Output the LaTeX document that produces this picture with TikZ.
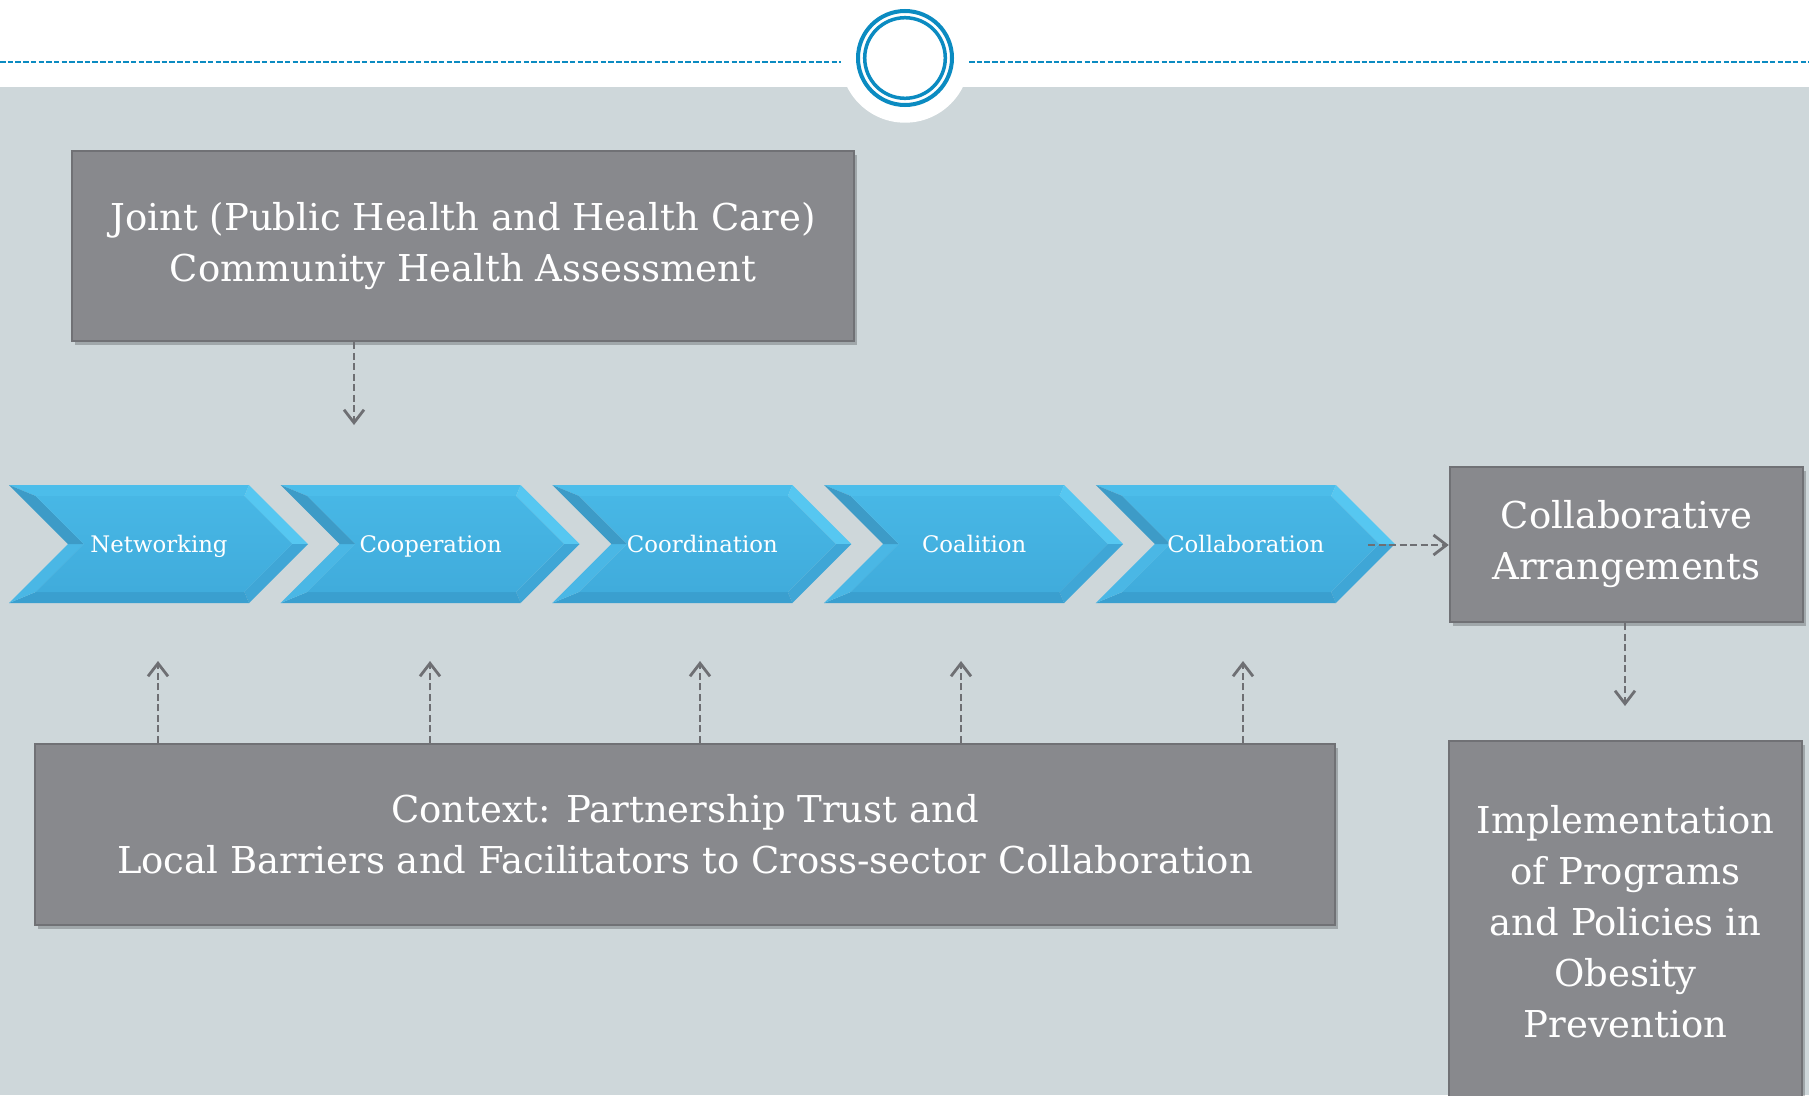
\documentclass[tikz,border=0pt]{standalone}
\usepackage{fontspec}
\setmainfont{DejaVu Serif}
\usetikzlibrary{arrows.meta,shadows}

\definecolor{bg}{HTML}{CED7DA}
\definecolor{boxfill}{HTML}{88898D}
\definecolor{boxline}{HTML}{707175}
\definecolor{arrowgray}{HTML}{6E6F73}
\definecolor{ring}{HTML}{0B8BC1}
\definecolor{chevmain}{HTML}{41AEDE}
\definecolor{chevtop}{HTML}{4CBDEA}
\definecolor{chevlight}{HTML}{56C7F1}
\definecolor{chevdark}{HTML}{3D9BC7}
\definecolor{chevlow}{HTML}{3A9FCF}
\definecolor{chevmid}{HTML}{3FA6D6}
\definecolor{chevleft}{HTML}{4AB7E5}

\begin{document}
\begin{tikzpicture}
        [x=1pt, y=-1pt,
        box/.style={rectangle, draw=boxline, line width=2.5pt, fill=boxfill, text=white, align=center,
            font=\fontsize{37}{51}\selectfont,
            drop shadow={shadow xshift=3pt, shadow yshift=-4pt, opacity=0.22, fill=black}},
        conn/.style={draw=arrowgray, line width=2.8pt, dash pattern=on 7pt off 3.5pt,
            -{Straight Barb[length=13pt, width=20pt]}},
        chevlabel/.style={text=white, font=\fontsize{22.8}{26}\selectfont, text height=16pt, text depth=4pt}]
        \useasboundingbox (0,0) rectangle (1809,1095);

        % background, top band and badge
        \fill[white] (0,0) rectangle (1809,87);
        \fill[bg] (0,87) rectangle (1809,1095);
        \fill[white] (905,58) circle (64.7pt);
        \draw[ring, line width=1.8pt, dash pattern=on 5.5pt off 2.2pt] (0,62) -- (841,62);
        \draw[ring, line width=1.8pt, dash pattern=on 5.5pt off 2.2pt] (969,62) -- (1809,62);
        \draw[ring, line width=4pt] (905,58) circle (47pt);
        \draw[ring, line width=3.5pt] (905,58) circle (40.3pt);

        % chevrons with bevelled edges
        \foreach \name/\lbl [count=\i from 0] in {net/Networking, coop/Cooperation, coord/Coordination, coal/Coalition, collab/Collaboration}{
            \begin{scope}[shift={(9+271.7*\i,485)}]
                \fill[chevtop] (0,0) -- (240,0) -- (235.4,11) -- (26.6,11) -- cycle;
                \fill[chevlight] (240,0) -- (299,59) -- (283.4,59) -- (235.4,11) -- cycle;
                \fill[chevmid] (299,59) -- (240,118) -- (235.4,107) -- (283.4,59) -- cycle;
                \fill[chevlow] (240,118) -- (0,118) -- (26.6,107) -- (235.4,107) -- cycle;
                \fill[chevleft] (0,118) -- (59,59) -- (74.6,59) -- (26.6,107) -- cycle;
                \fill[chevdark] (59,59) -- (0,0) -- (26.6,11) -- (74.6,59) -- cycle;
                \shade[top color=chevtop!60!chevmain, bottom color=chevmain!85!chevlow]
                    (26.6,11) -- (235.4,11) -- (283.4,59) -- (235.4,107) -- (26.6,107) -- (74.6,59) -- cycle;
                \node[chevlabel] (\name) at (150,61.5) {\lbl};
            \end{scope}
        }

        \node[box, minimum width=782pt, minimum height=190pt] (jca) at (463,246)
            {Joint (Public Health and Health Care)\\Community Health Assessment};
        \node[box, minimum width=1300pt, minimum height=181pt] (ctx) at (685,834.5)
            {Context: Partnership Trust and\\Local Barriers and Facilitators to Cross-sector Collaboration};
        \node[box, minimum width=353pt, minimum height=155pt] (ca) at (1626.5,544.5)
            {Collaborative\\Arrangements};
        \node[box, minimum width=353pt, minimum height=362pt] (impl) at (1625.5,922)
            {Implementation\\of Programs\\and Policies in\\Obesity\\Prevention};

        \coordinate (down) at (354,425);
        \coordinate (out) at (1368,545);
        \coordinate (next) at (1625,706);

        \draw[conn] (jca.south -| down) -- (down);
        \draw[conn] (out) -- (out -| ca.west);
        \draw[conn] (ca.south -| next) -- (next);
        \foreach \name/\x in {net/158, coop/430, coord/700, coal/961, collab/1243}{
            \coordinate (up-\name) at (\x,661);
            \draw[conn] (ctx.north -| up-\name) -- (up-\name);
        }
    \end{tikzpicture}
\end{document}
